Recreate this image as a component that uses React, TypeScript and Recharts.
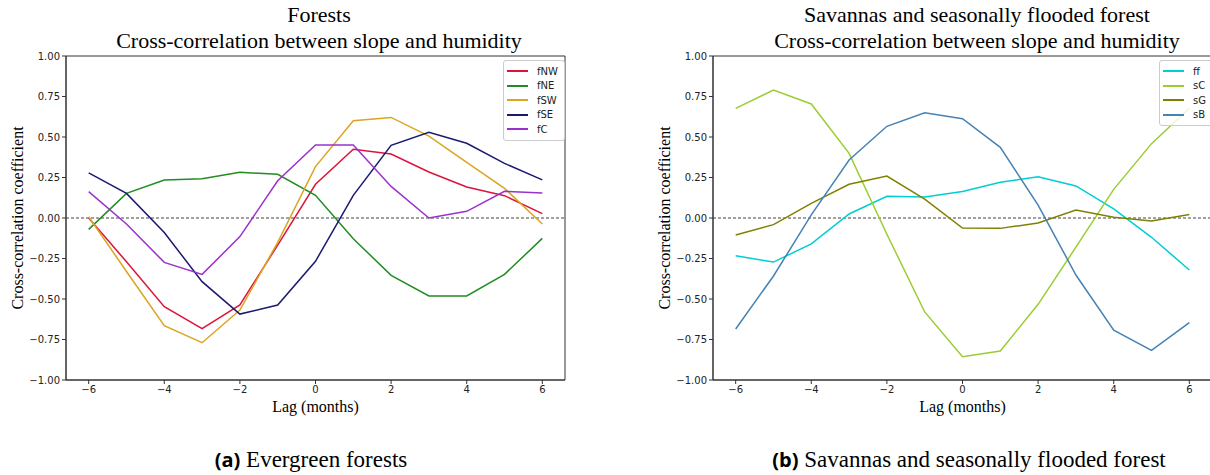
import React from 'react';
import { LineChart, Line, XAxis, YAxis, ReferenceLine, ReferenceArea, Legend } from 'recharts';

// lag in months, shared by every series
const lags = [-6, -5, -4, -3, -2, -1, 0, 1, 2, 3, 4, 5, 6];

// evergreen forests
const fNW = [0.0, -0.27, -0.547, -0.683, -0.537, -0.167, 0.208, 0.424, 0.395, 0.284, 0.191, 0.138, 0.027];
const fNE = [-0.07, 0.152, 0.235, 0.243, 0.282, 0.27, 0.14, -0.128, -0.354, -0.481, -0.481, -0.348, -0.126];
const fSW = [0.008, -0.33, -0.665, -0.77, -0.568, -0.15, 0.317, 0.6, 0.621, 0.506, 0.344, 0.183, -0.037];
const fSE = [0.278, 0.152, -0.09, -0.393, -0.593, -0.537, -0.267, 0.14, 0.449, 0.529, 0.461, 0.337, 0.235];
const fC = [0.163, -0.037, -0.274, -0.348, -0.115, 0.23, 0.451, 0.451, 0.195, 0.0, 0.041, 0.165, 0.154];

// savannas and seasonally flooded forest
const ff = [-0.233, -0.272, -0.16, 0.025, 0.134, 0.13, 0.163, 0.22, 0.255, 0.198, 0.056, -0.119, -0.321];
const sC = [0.677, 0.79, 0.704, 0.399, -0.1, -0.58, -0.856, -0.821, -0.533, -0.18, 0.177, 0.459, 0.677];
const sG = [-0.105, -0.041, 0.09, 0.208, 0.259, 0.117, -0.062, -0.064, -0.031, 0.049, 0.004, -0.019, 0.021];
const sB = [-0.685, -0.358, 0.019, 0.358, 0.566, 0.65, 0.613, 0.436, 0.08, -0.352, -0.693, -0.817, -0.646];

const xTicks = [-6, -4, -2, 0, 2, 4, 6];
const yTicks = [-1, -0.75, -0.5, -0.25, 0, 0.25, 0.5, 0.75, 1];

type SeriesDef = { key: string; values: number[]; color: string };

const forestSeries: SeriesDef[] = [
  { key: 'fNW', values: fNW, color: '#dc143c' },
  { key: 'fNE', values: fNE, color: '#228b22' },
  { key: 'fSW', values: fSW, color: '#daa520' },
  { key: 'fSE', values: fSE, color: '#191970' },
  { key: 'fC', values: fC, color: '#9932cc' },
];

const savannaSeries: SeriesDef[] = [
  { key: 'ff', values: ff, color: '#00ced1' },
  { key: 'sC', values: sC, color: '#9acd32' },
  { key: 'sG', values: sG, color: '#808000' },
  { key: 'sB', values: sB, color: '#4682b4' },
];

const buildRows = (series: SeriesDef[]) =>
  lags.map((lag, i) => {
    const row: Record<string, number> = { lag };
    series.forEach((s) => {
      row[s.key] = s.values[i];
    });
    return row;
  });

const SANS = 'DejaVu Sans, sans-serif';
const SERIF = '"Liberation Serif", "Times New Roman", serif';
const AXIS = '#333';

const minus = (v: string) => v.replace('-', '\u2212');

const BoxLegend = ({ series }: { series: SeriesDef[] }) => (
  <div
    style={{
      background: 'rgba(255,255,255,0.8)',
      border: '1px solid #ccc',
      borderRadius: 3,
      padding: '3px 6px 3px 3px',
      fontFamily: SANS,
      fontSize: 10,
      color: '#222',
      display: 'inline-block',
    }}
  >
    {series.map((s) => (
      <div key={s.key} style={{ display: 'flex', alignItems: 'center', height: 14.5 }}>
        <span style={{ display: 'inline-block', width: 21, height: 2, background: s.color, marginRight: 9 }} />
        <span>{s.key}</span>
      </div>
    ))}
  </div>
);

const Panel = ({ series, left, legendLeft }: { series: SeriesDef[]; left: number; legendLeft: number }) => {
  const rows = buildRows(series);
  return (
    <div style={{ position: 'absolute', left, top: 0 }}>
      <LineChart width={600} height={420} data={rows} margin={{ top: 56, right: 35, bottom: 0, left: 0 }}>
        <XAxis
          dataKey="lag"
          type="number"
          domain={[-6.6, 6.6]}
          ticks={xTicks}
          allowDataOverflow
          height={40}
          stroke={AXIS}
          tickSize={4}
          tick={{ fontSize: 10, fontFamily: SANS, fill: '#222' }}
          tickFormatter={(v: number) => minus(String(v))}
          label={{ value: 'Lag (months)', position: 'insideBottom', offset: 8, style: { fontSize: 16, fontFamily: SERIF, fill: '#000' } }}
        />
        <YAxis
          type="number"
          domain={[-1, 1]}
          ticks={yTicks}
          allowDataOverflow
          width={66}
          stroke={AXIS}
          tickSize={4}
          tick={{ fontSize: 10, fontFamily: SANS, fill: '#222' }}
          tickFormatter={(v: number) => minus(v.toFixed(2))}
          label={{ value: 'Cross-correlation coefficient', angle: -90, position: 'insideLeft', offset: 17, style: { fontSize: 16, fontFamily: SERIF, fill: '#000', textAnchor: 'middle' } }}
        />
        <ReferenceArea x1={-6.6} x2={6.6} y1={-1} y2={1} fill="none" stroke={AXIS} strokeWidth={1} />
        <ReferenceLine y={0} stroke="#444" strokeDasharray="3 2" strokeWidth={1} />
        {series.map((s) => (
          <Line
            key={s.key}
            dataKey={s.key}
            type="linear"
            stroke={s.color}
            strokeWidth={1.5}
            dot={false}
            isAnimationActive={false}
          />
        ))}
        {/* centre + middle keeps the legend from reserving space in the plot */}
        <Legend
          layout="vertical"
          verticalAlign="middle"
          align="center"
          content={() => <BoxLegend series={series} />}
          wrapperStyle={{ top: 60, left: legendLeft, width: 'auto', right: 'auto', bottom: 'auto' }}
        />
      </LineChart>
    </div>
  );
};

const titleStyle: React.CSSProperties = {
  position: 'absolute',
  top: 2,
  width: 600,
  textAlign: 'center',
  fontFamily: SERIF,
  fontSize: 22,
  lineHeight: '26px',
  color: '#000',
};

const captionStyle: React.CSSProperties = {
  position: 'absolute',
  top: 446,
  width: 640,
  textAlign: 'center',
  fontFamily: SERIF,
  fontSize: 23,
  color: '#000',
};

const tagStyle: React.CSSProperties = { fontFamily: '"Open Sans", sans-serif', fontWeight: 700, fontSize: 20 };

export default function App() {
  return (
    <div style={{ position: 'absolute', left: 0, top: 0, width: 1210, height: 475, overflow: 'hidden', background: '#fff' }}>
      <div style={{ ...titleStyle, left: 19 }}>
        Forests
        <br />
        Cross-correlation between slope and humidity
      </div>
      <div style={{ ...titleStyle, left: 677 }}>
        Savannas and seasonally flooded forest
        <br />
        Cross-correlation between slope and humidity
      </div>
      <Panel series={forestSeries} left={0} legendLeft={503} />
      <Panel series={savannaSeries} left={647} legendLeft={512} />
      <div style={{ ...captionStyle, left: -9 }}>
        <span style={tagStyle}>(a)</span> Evergreen forests
      </div>
      <div style={{ ...captionStyle, left: 649 }}>
        <span style={tagStyle}>(b)</span> Savannas and seasonally flooded forest
      </div>
    </div>
  );
}
